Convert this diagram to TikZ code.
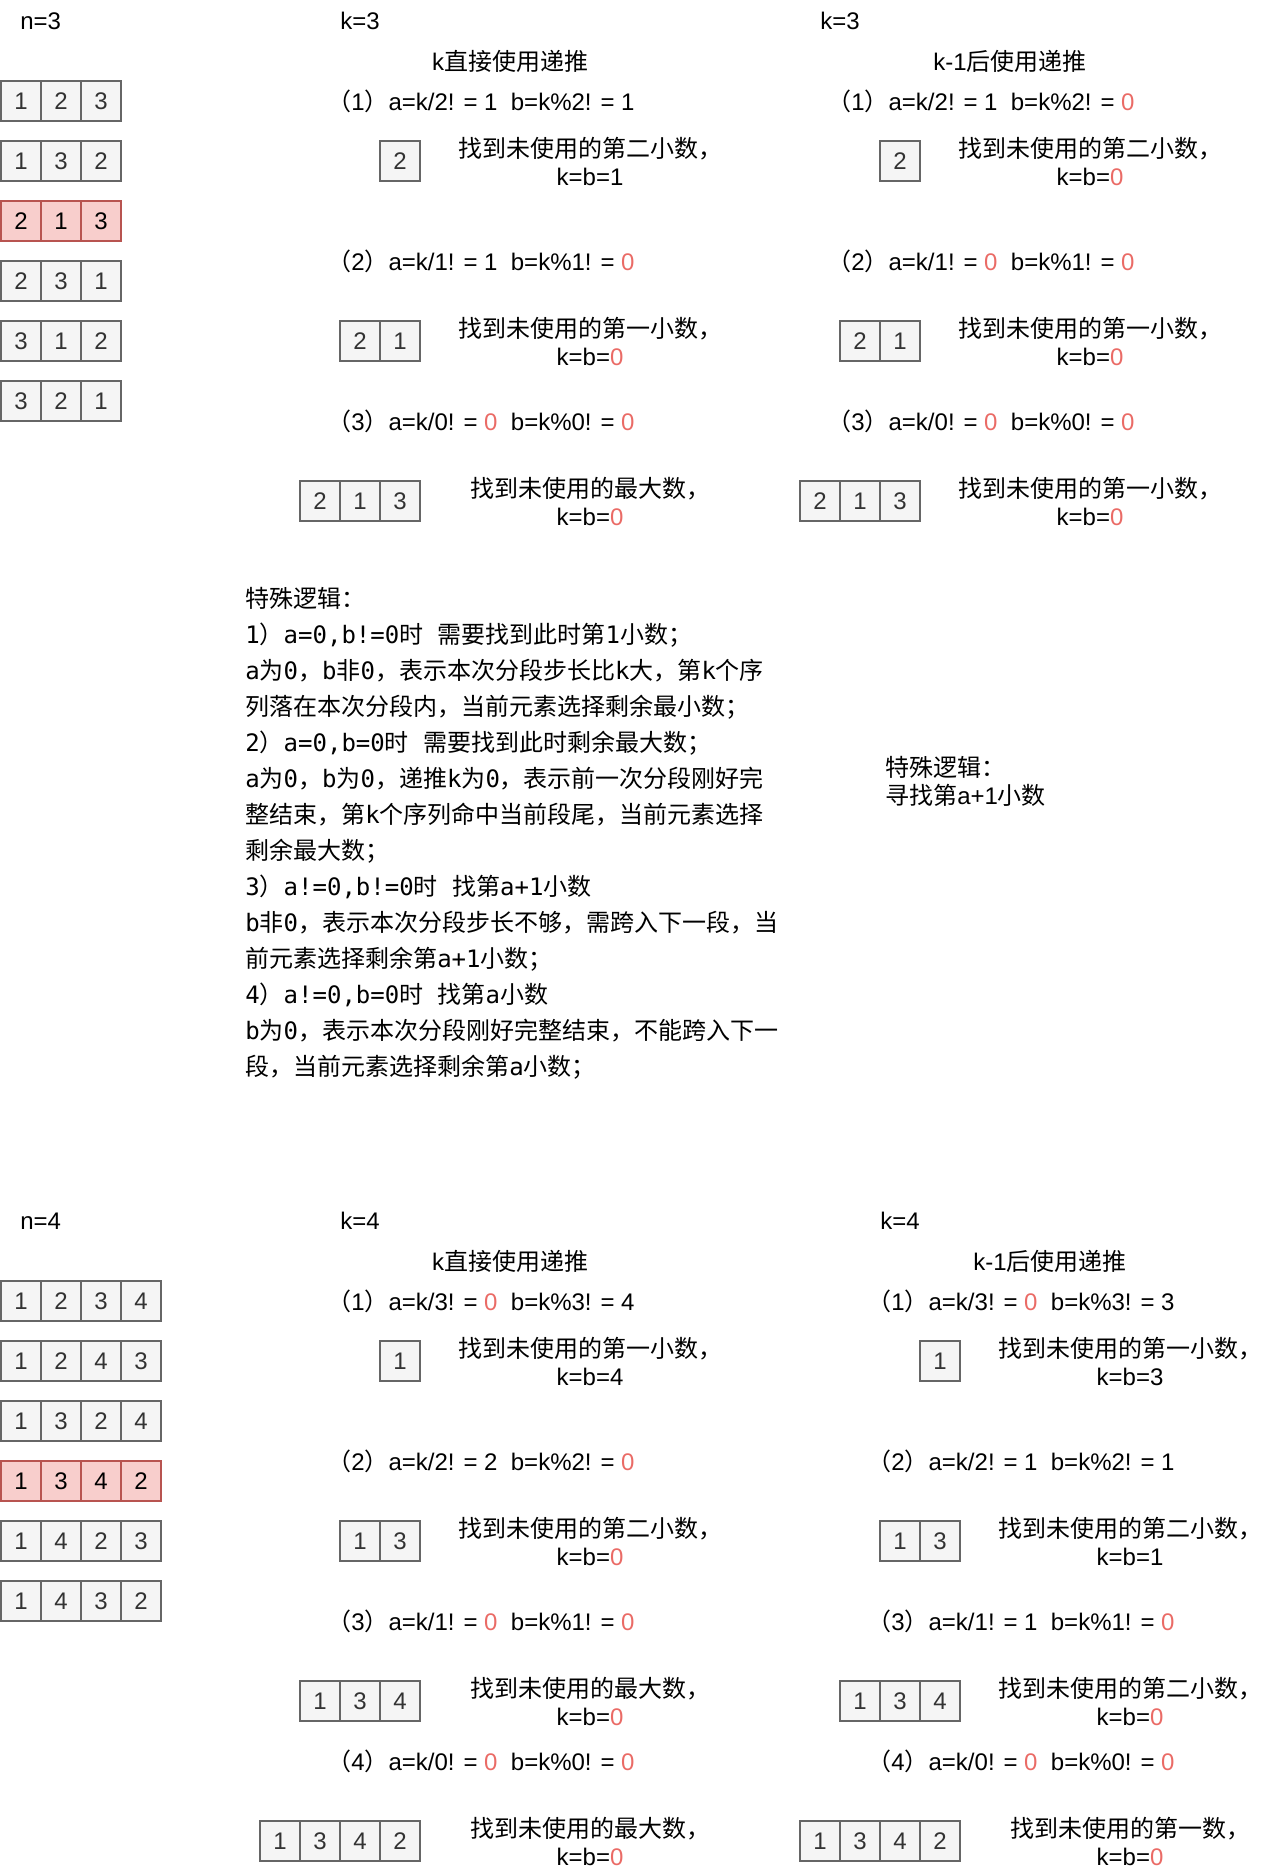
\documentclass[tikz,border=0pt]{standalone}
\usepackage{fontspec}
\setmainfont{Liberation Sans}
\setmonofont{DejaVu Sans Mono}
\newfontfamily\cjk{Noto Sans CJK SC}
\usepackage{xcolor}
\usepackage{tikz}
\usetikzlibrary{positioning}

\definecolor{cellfill}{HTML}{F5F5F5}
\definecolor{celldraw}{HTML}{666666}
\definecolor{celltext}{HTML}{333333}
\definecolor{hotfill}{HTML}{F8CECC}
\definecolor{hotdraw}{HTML}{B85450}
\definecolor{zero}{HTML}{EA6B66}

\newcommand{\zh}[1]{{\cjk #1}}
\newcommand{\hl}[1]{\textcolor{zero}{#1}}
% one row of numbered cells: [style]{name}{left x}{centre y}{values}
\newcommand{\permrow}[5][cell]{%
  \foreach \val [count=\idx] in {#5}
    \node[#1] (#2-\idx) at ({#3+40*\idx-20},#4) {\val};}

\begin{document}
\begin{tikzpicture}[x=0.75pt, y=-0.75pt,
    cell/.style={rectangle, draw=celldraw, fill=cellfill, text=celltext,
      line width=1.5pt, minimum size=30pt, inner sep=0pt,
      font=\fontsize{18}{21}\selectfont},
    hot/.style={cell, draw=hotdraw, fill=hotfill, text=black},
    txt/.style={inner sep=0pt, font=\fontsize{18}{21}\selectfont},
    eq/.style={txt, anchor=west},
    note/.style={txt, align=center}
]
\useasboundingbox (0,0) rectangle (1282,1870);

% n=3
\node[eq] (n3) at (20,21) {n=3};
\permrow{pa}{1}{101}{1,2,3}
\permrow{pb}{1}{161}{1,3,2}
\permrow[hot]{pc}{1}{221}{2,1,3}
\permrow{pd}{1}{281}{2,3,1}
\permrow{pe}{1}{341}{3,1,2}
\permrow{pf}{1}{401}{3,2,1}

\node[eq] (ka) at (340,21) {k=3};
\node[txt] (ta) at (510,61) {k\zh{直接使用递推}};
\node[eq] (a1) at (327,101) {\zh{（}1\zh{）}a=k/2! = 1~~b=k\%2! = 1};
\permrow{a1b}{380}{161}{2}
\node[note] (a1n) at (590,161) {\zh{找到未使用的第二小数，}\\k=b=1};
\node[eq] (a2) at (327,261) {\zh{（}2\zh{）}a=k/1! = 1~~b=k\%1! = \hl{0}};
\permrow{a2b}{340}{341}{2,1}
\node[note] (a2n) at (590,341) {\zh{找到未使用的第一小数，}\\k=b=\hl{0}};
\node[eq] (a3) at (327,421) {\zh{（}3\zh{）}a=k/0! = \hl{0}~~b=k\%0! = \hl{0}};
\permrow{a3b}{300}{501}{2,1,3}
\node[note] (a3n) at (590,501) {\zh{找到未使用的最大数，}\\k=b=\hl{0}};

\node[eq] (kb) at (820,21) {k=3};
\begin{scope}[shift={(500,0)}]
\node[txt] (tb) at (510,61) {k-1\zh{后使用递推}};
\node[eq] (b1) at (327,101) {\zh{（}1\zh{）}a=k/2! = 1~~b=k\%2! = \hl{0}};
\permrow{b1b}{380}{161}{2}
\node[note] (b1n) at (590,161) {\zh{找到未使用的第二小数，}\\k=b=\hl{0}};
\node[eq] (b2) at (327,261) {\zh{（}2\zh{）}a=k/1! = \hl{0}~~b=k\%1! = \hl{0}};
\permrow{b2b}{340}{341}{2,1}
\node[note] (b2n) at (590,341) {\zh{找到未使用的第一小数，}\\k=b=\hl{0}};
\node[eq] (b3) at (327,421) {\zh{（}3\zh{）}a=k/0! = \hl{0}~~b=k\%0! = \hl{0}};
\permrow{b3b}{300}{501}{2,1,3}
\node[note] (b3n) at (590,501) {\zh{找到未使用的第一小数，}\\k=b=\hl{0}};
\end{scope}

% special cases
\node[txt, anchor=north west, align=left, font=\ttfamily\fontsize{18}{27}\selectfont]
  (logic) at (245,587) {%
  \zh{特殊逻辑：}\\
  1\zh{）}a=0,b!=0\zh{时\hspace{.6em}需要找到此时第}1\zh{小数；}\\
  a\zh{为}0\zh{，}b\zh{非}0\zh{，表示本次分段步长比}k\zh{大，第}k\zh{个序}\\
  \zh{列落在本次分段内，当前元素选择剩余最小数；}\\
  2\zh{）}a=0,b=0\zh{时\hspace{.6em}需要找到此时剩余最大数；}\\
  a\zh{为}0\zh{，}b\zh{为}0\zh{，递推}k\zh{为}0\zh{，表示前一次分段刚好完}\\
  \zh{整结束，第}k\zh{个序列命中当前段尾，当前元素选择}\\
  \zh{剩余最大数；}\\
  3\zh{）}a!=0,b!=0\zh{时\hspace{.6em}找第}a+1\zh{小数}\\
  b\zh{非}0\zh{，表示本次分段步长不够，需跨入下一段，当}\\
  \zh{前元素选择剩余第}a+1\zh{小数；}\\
  4\zh{）}a!=0,b=0\zh{时\hspace{.6em}找第}a\zh{小数}\\
  b\zh{为}0\zh{，表示本次分段刚好完整结束，不能跨入下一}\\
  \zh{段，当前元素选择剩余第}a\zh{小数；}};
\node[txt, anchor=north west, align=left] (logic2) at (885,756)
  {\zh{特殊逻辑：}\\\zh{寻找第}a+1\zh{小数}};

% n=4
\begin{scope}[shift={(0,1200)}]
\node[eq] (n4) at (20,21) {n=4};
\permrow{qa}{1}{101}{1,2,3,4}
\permrow{qb}{1}{161}{1,2,4,3}
\permrow{qc}{1}{221}{1,3,2,4}
\permrow[hot]{qd}{1}{281}{1,3,4,2}
\permrow{qe}{1}{341}{1,4,2,3}
\permrow{qf}{1}{401}{1,4,3,2}

\node[eq] (kc) at (340,21) {k=4};
\node[txt] (tc) at (510,61) {k\zh{直接使用递推}};
\node[eq] (c1) at (327,101) {\zh{（}1\zh{）}a=k/3! = \hl{0}~~b=k\%3! = 4};
\permrow{c1b}{380}{161}{1}
\node[note] (c1n) at (590,161) {\zh{找到未使用的第一小数，}\\k=b=4};
\node[eq] (c2) at (327,261) {\zh{（}2\zh{）}a=k/2! = 2~~b=k\%2! = \hl{0}};
\permrow{c2b}{340}{341}{1,3}
\node[note] (c2n) at (590,341) {\zh{找到未使用的第二小数，}\\k=b=\hl{0}};
\node[eq] (c3) at (327,421) {\zh{（}3\zh{）}a=k/1! = \hl{0}~~b=k\%1! = \hl{0}};
\permrow{c3b}{300}{501}{1,3,4}
\node[note] (c3n) at (590,501) {\zh{找到未使用的最大数，}\\k=b=\hl{0}};
\node[eq] (c4) at (327,561) {\zh{（}4\zh{）}a=k/0! = \hl{0}~~b=k\%0! = \hl{0}};
\permrow{c4b}{260}{641}{1,3,4,2}
\node[note] (c4n) at (590,641) {\zh{找到未使用的最大数，}\\k=b=\hl{0}};

\begin{scope}[shift={(540,0)}]
\node[eq] (kd) at (340,21) {k=4};
\node[txt] (td) at (510,61) {k-1\zh{后使用递推}};
\node[eq] (d1) at (327,101) {\zh{（}1\zh{）}a=k/3! = \hl{0}~~b=k\%3! = 3};
\permrow{d1b}{380}{161}{1}
\node[note] (d1n) at (590,161) {\zh{找到未使用的第一小数，}\\k=b=3};
\node[eq] (d2) at (327,261) {\zh{（}2\zh{）}a=k/2! = 1~~b=k\%2! = 1};
\permrow{d2b}{340}{341}{1,3}
\node[note] (d2n) at (590,341) {\zh{找到未使用的第二小数，}\\k=b=1};
\node[eq] (d3) at (327,421) {\zh{（}3\zh{）}a=k/1! = 1~~b=k\%1! = \hl{0}};
\permrow{d3b}{300}{501}{1,3,4}
\node[note] (d3n) at (590,501) {\zh{找到未使用的第二小数，}\\k=b=\hl{0}};
\node[eq] (d4) at (327,561) {\zh{（}4\zh{）}a=k/0! = \hl{0}~~b=k\%0! = \hl{0}};
\permrow{d4b}{260}{641}{1,3,4,2}
\node[note] (d4n) at (590,641) {\zh{找到未使用的第一数，}\\k=b=\hl{0}};
\end{scope}
\end{scope}
\end{tikzpicture}
\end{document}
